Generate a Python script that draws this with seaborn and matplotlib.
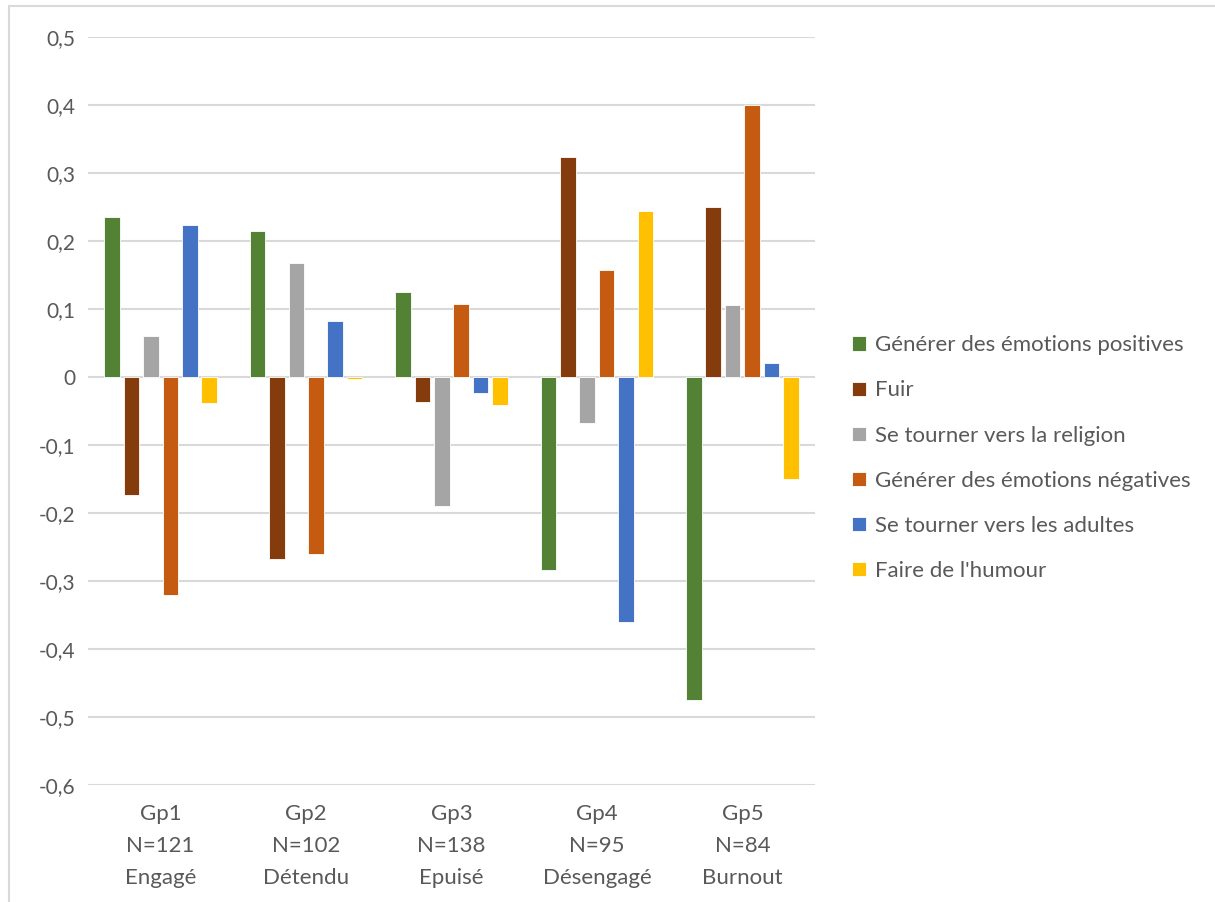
import pandas as pd
import numpy as np
import matplotlib
matplotlib.use("Agg")
import matplotlib.pyplot as plt
from matplotlib.ticker import FuncFormatter, MultipleLocator
from matplotlib.lines import Line2D
import seaborn as sns

# Données
groupes = ["Gp1\nN=121\nEngagé", "Gp2\nN=102\nDétendu", "Gp3\nN=138\nEpuisé",
           "Gp4\nN=95\nDésengagé", "Gp5\nN=84\nBurnout"]
strategies = ["Générer des émotions positives", "Fuir", "Se tourner vers la religion",
              "Générer des émotions négatives", "Se tourner vers les adultes",
              "Faire de l'humour"]

emotions_positives = [0.236, 0.215, 0.125, -0.284, -0.475]
fuir = [-0.174, -0.268, -0.037, 0.323, 0.250]
religion = [0.060, 0.167, -0.189, -0.067, 0.106]
emotions_negatives = [-0.321, -0.260, 0.107, 0.158, 0.400]
adultes = [0.224, 0.082, -0.023, -0.360, 0.020]
humour = [-0.038, -0.003, -0.041, 0.244, -0.150]

couleurs = ["#548235", "#843C0C", "#A5A5A5", "#C55A11", "#4472C4", "#FFC000"]

series = [emotions_positives, fuir, religion, emotions_negatives, adultes, humour]
rows = []
for nom, valeurs in zip(strategies, series):
    for g, v in zip(groupes, valeurs):
        rows.append({"groupe": g, "strategie": nom, "valeur": v})
df = pd.DataFrame(rows)

sns.set_style("white")
plt.rcParams['font.family'] = ['Lato', 'DejaVu Sans']
texte = "#595959"

fig = plt.figure(figsize=(12.15, 9.02), dpi=100)
ax = fig.add_axes([0.0724, 0.1297, 0.5984, 0.8293])

sns.barplot(data=df, x="groupe", y="valeur", hue="strategie", order=groupes,
            hue_order=strategies, palette=couleurs, saturation=1, width=0.8, gap=0.2,
            edgecolor="white", linewidth=0.6, ax=ax, zorder=3)

ax.set_ylim(-0.6, 0.5)
ax.yaxis.set_major_locator(MultipleLocator(0.1))
ax.yaxis.set_major_formatter(FuncFormatter(
    lambda v, p: "0" if abs(v) < 1e-9 else f"{v:.1f}".replace(".", ",")))
ax.grid(axis="y", color="#D9D9D9", linewidth=1.5, zorder=0)
ax.set_xlabel("")
ax.set_ylabel("")
for s in ax.spines.values():
    s.set_visible(False)
ax.tick_params(axis="both", length=0, colors=texte)
ax.tick_params(axis="y", pad=9, labelsize=15)
ax.tick_params(axis="x", pad=13.5, labelsize=16)
for lab in ax.get_xticklabels():
    lab.set_linespacing(1.77)

handles, labels = ax.get_legend_handles_labels()
ax.legend(handles, labels, loc="center left", bbox_to_anchor=(1.024, 0.437),
          frameon=False, fontsize=16, labelcolor=texte, handlelength=0.6,
          handleheight=0.6, handletextpad=0.4, labelspacing=1.13)

# Bordure de la zone de graphique
fig.add_artist(Line2D([9 / 1215, 9 / 1215], [0, 1 - 6 / 902], color="#D9D9D9", lw=1.5))
fig.add_artist(Line2D([9 / 1215, 1], [1 - 6 / 902, 1 - 6 / 902], color="#D9D9D9", lw=1.5))

fig.savefig("out.png", dpi=100)
